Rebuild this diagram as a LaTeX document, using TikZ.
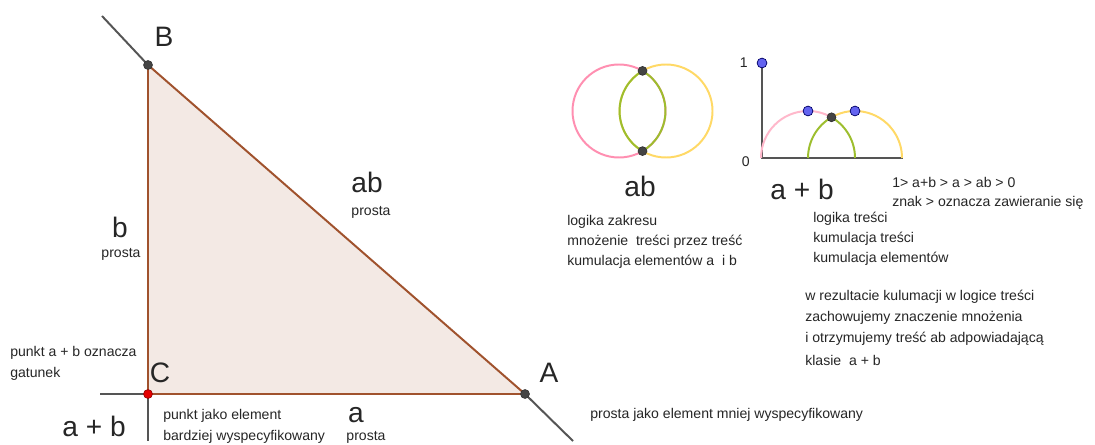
\documentclass[tikz,border=0pt]{standalone}
\usepackage{fontspec}
\setmainfont{Liberation Sans}
\usetikzlibrary{positioning}
\definecolor{edge}{HTML}{A0522D}
\definecolor{tri}{HTML}{F3E9E4}
\definecolor{axisgray}{HTML}{555555}
\definecolor{pinkc}{HTML}{FF8FB1}
\definecolor{palepink}{HTML}{FFB8CB}
\definecolor{yellowc}{HTML}{FFD966}
\definecolor{greenc}{HTML}{9DBE2E}
\definecolor{ptblue}{HTML}{6464F0}
\definecolor{ptdark}{HTML}{444444}
\definecolor{txt}{HTML}{262626}

\begin{document}
\begin{tikzpicture}[
    x=0.025cm, y=-0.025cm,
    every node/.style={text=txt},
    lbl/.style={font=\fontsize{10}{12}\selectfont, anchor=west, inner sep=0pt},
    big/.style={font=\fontsize{20}{22}\selectfont, inner sep=0pt},
    ray/.style={draw=axisgray, line width=1.4pt},
    side/.style={draw=edge, line width=1.4pt, line join=round},
    pt/.style={circle, draw=black!80, line width=0.5pt, fill=ptdark, minimum size=6.3pt, inner sep=0pt},
    bluept/.style={pt, fill=ptblue, draw=blue!40!black, minimum size=7pt},
    redpt/.style={pt, fill=red!90!black, draw=red!60!black},
    ring/.style={line width=1.4pt}
]
\path[use as bounding box, fill=white] (0,0) rectangle (1095,445);

% Triangle
\coordinate (A) at (525,394);
\coordinate (B) at (148,65);
\coordinate (C) at (148,394);
\coordinate (endB) at (102,16);
\coordinate (endA) at (573,441);
\coordinate (endCl) at (100,394);
\coordinate (endCd) at (148,441);
\fill[tri] (A) -- (B) -- (C) -- cycle;
\draw[ray] (endB) -- (B);
\draw[ray] (A) -- (endA);
\draw[ray] (endCl) -- (C) -- (endCd);
\draw[side] (A) -- (B) -- (C) -- cycle;
\node[pt] (pA) at (A) {};
\node[pt] (pB) at (B) {};
\node[redpt] (pC) at (C) {};

\node[big] (labB) at (164,37) {B};
\node[big] (labC) at (160,373) {C};
\node[big] (labA) at (549,373) {A};
\node[big] (sb) at (120,227) {b};
\node[lbl, anchor=center] (pb) at (121,254) {prosta};
\node[big] (sab) at (367,182) {ab};
\node[lbl, anchor=center] (pab) at (371,212) {prosta};
\node[big] (sa) at (356,415) {a};
\node[lbl, anchor=center] (pa) at (366,437) {prosta};
\node[big] (sapb) at (94,426) {a + b};

\node[lbl] (t1) at (10,353) {punkt a + b oznacza};
\node[lbl] (t2) at (10,374) {gatunek};
\node[lbl] (t3) at (163,416) {punkt jako element};
\node[lbl] (t4) at (163,437) {bardziej wyspecyfikowany};
\node[lbl] (t5) at (590,415) {prosta jako element mniej wyspecyfikowany};

% Circles (logika zakresu)
\coordinate (o1) at (619,111);
\coordinate (o2) at (666,111);
\coordinate (top) at (642.5,70.9);
\coordinate (bot) at (642.5,151.1);
\draw[ring, pinkc] (o1) circle[radius=46.5];
\draw[ring, yellowc] (o2) circle[radius=46.5];
\draw[ring, greenc] (top) arc[start angle=-59.6, end angle=59.6, radius=46.5]
    arc[start angle=120.4, end angle=239.6, radius=46.5];
\node[pt] (ptop) at (top) {};
\node[pt] (pbot) at (bot) {};
\node[big] (lab) at (640,186) {ab};

\node[lbl] (z1) at (567,222) {logika zakresu};
\node[lbl] (z2) at (567,242) {mnożenie \ treści przez treść};
\node[lbl] (z3) at (567,262) {kumulacja elementów a \ i b};

% Half circles (logika treści)
\coordinate (org) at (762,158);
\coordinate (one) at (762,63);
\coordinate (xend) at (903,158);
\coordinate (q1) at (808,158);
\coordinate (q2) at (855,158);
\coordinate (cut) at (831.5,117.3);
\draw[ray] (one) -- (org) -- (xend);
\draw[ring, palepink] (761,158) arc[start angle=-180, end angle=-60, radius=47];
\draw[ring, yellowc] (cut) arc[start angle=-120, end angle=0, radius=47];
\draw[ring, greenc] (q1) arc[start angle=-180, end angle=-120, radius=47]
    arc[start angle=-60, end angle=0, radius=47];
\node[bluept] (pone) at (one) {};
\node[bluept] (ptop1) at (808,111) {};
\node[bluept] (ptop2) at (855,111) {};
\node[pt] (pcut) at (cut) {};
\node[lbl, anchor=east] (n1) at (748,63) {1};
\node[lbl, anchor=east] (n0) at (750,162) {0};
\node[big] (lapb) at (802,189) {a + b};

\node[lbl] (c1) at (892,182) {1> a+b > a > ab > 0};
\node[lbl] (c2) at (892,203) {znak > oznacza zawieranie się};
\node[lbl] (k1) at (813,219) {logika treści};
\node[lbl] (k2) at (813,239) {kumulacja treści};
\node[lbl] (k3) at (813,259) {kumulacja elementów};

\node[lbl] (w1) at (805,297) {w rezultacie kulumacji w logice treści};
\node[lbl] (w2) at (805,318) {zachowujemy znaczenie mnożenia};
\node[lbl] (w3) at (805,339) {i otrzymujemy treść ab adpowiadającą};
\node[lbl] (w4) at (805,360) {klasie \ a + b};
\end{tikzpicture}
\end{document}
